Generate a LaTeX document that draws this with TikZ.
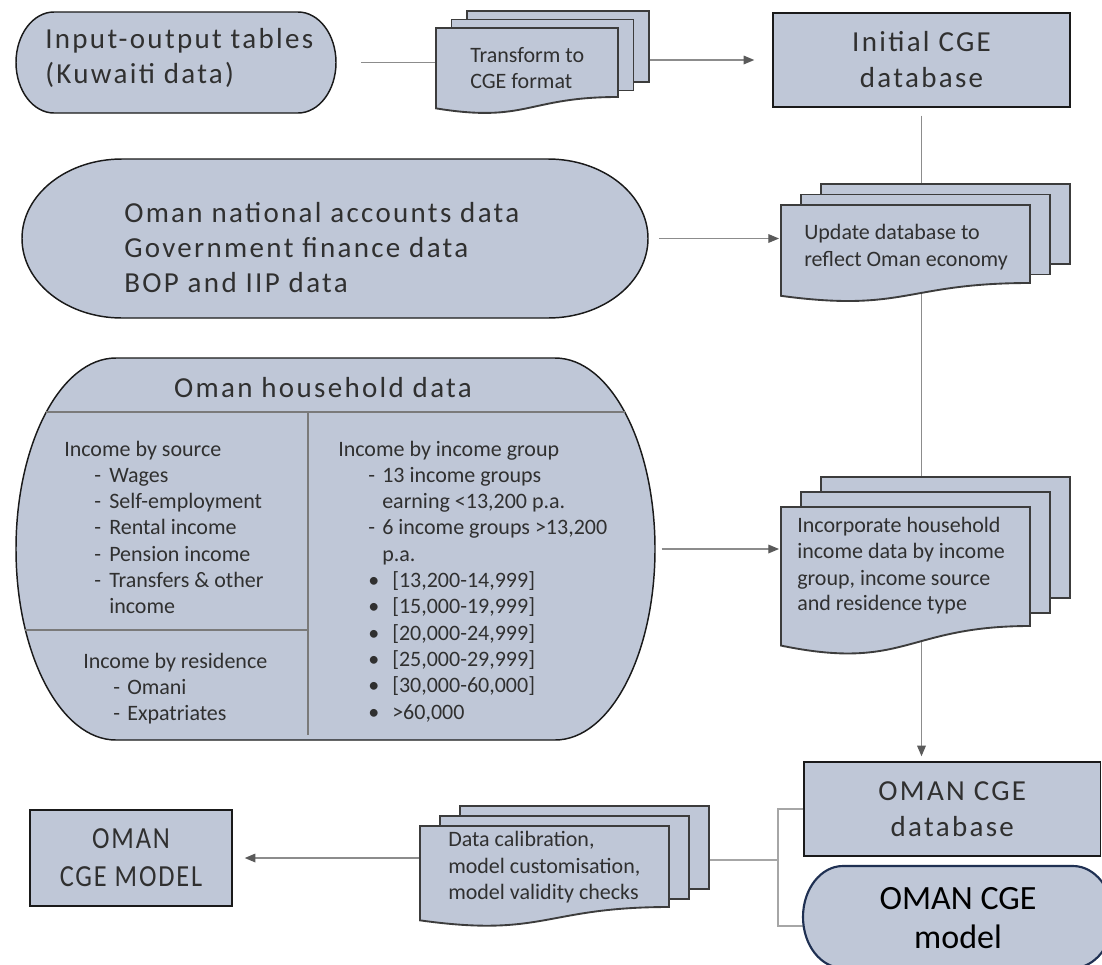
\documentclass[tikz,border=0pt]{standalone}
\usepackage{fontspec}
\setmainfont{Carlito}
\newfontfamily\bigfont[LetterSpace=8]{Carlito}
\newfontfamily\condfont[FakeStretch=0.86,LetterSpace=6]{Carlito}
\usetikzlibrary{arrows.meta}
\definecolor{boxfill}{HTML}{BFC7D7}
\definecolor{edge}{HTML}{1A1A1A}
\definecolor{docedge}{HTML}{3C3C3C}
\definecolor{txt}{HTML}{303030}
\definecolor{connc}{HTML}{8C8C8C}
\definecolor{tipc}{HTML}{5A5A5A}
\definecolor{brkc}{HTML}{A6A6A6}
\definecolor{innerc}{HTML}{7A7A7A}
\definecolor{navy}{HTML}{1F3052}

% stadium (terminator) outline: style, x1, y1, x2, y2, horizontal radius
\newcommand\stadiumpath[6]{%
  \pgfmathsetmacro\sxa{#2+#6}%
  \pgfmathsetmacro\sxb{#4-#6}%
  \pgfmathsetmacro\sym{(#3+#5)/2}%
  \pgfmathsetmacro\sky{0.5523*(#5-#3)/2}%
  \pgfmathsetmacro\skx{0.5523*#6}%
  \path[#1] (\sxa,#3) -- (\sxb,#3)
    .. controls (\sxb+\skx,#3) and (#4,\sym-\sky) .. (#4,\sym)
    .. controls (#4,\sym+\sky) and (\sxb+\skx,#5) .. (\sxb,#5)
    -- (\sxa,#5)
    .. controls (\sxa-\skx,#5) and (#2,\sym+\sky) .. (#2,\sym)
    .. controls (#2,\sym-\sky) and (\sxa-\skx,#3) .. (\sxa,#3) -- cycle;}

% multi-document: x, y, w, right-bottom height, dx, dy
\newcommand\multidoc[6]{%
  \pgfmathsetmacro\dh{#4/0.802}%
  \foreach \k in {2,1}{%
    \path[docshape] (#1+\k*#5,#2-\k*#6) rectangle (#1+#3+\k*#5,#2-\k*#6+#4+2);}%
  \path[docshape] (#1,#2) -- (#1+#3,#2) -- (#1+#3,#2+#4)
     .. controls (#1+0.5*#3,#2+#4) and (#1+0.5*#3,#2+1.107*\dh) .. (#1,#2+0.934*\dh) -- cycle;}

\newcommand\anchornode[5]{\node[inner sep=0pt,outer sep=0pt,minimum width=#4*0.75pt,minimum height=#5*0.75pt] (#1) at (#2,#3) {};}

\begin{document}
\begin{tikzpicture}[x=0.75pt,y=-0.75pt,
  bigtxt/.style={font=\bigfont\fontsize{21.75pt}{27pt}\selectfont, text=txt, inner sep=0pt},
  condtxt/.style={font=\condfont\fontsize{23pt}{28.5pt}\selectfont, text=txt, inner sep=0pt},
  smalltxt/.style={font=\fontsize{16.5pt}{19.75pt}\selectfont, text=txt, inner sep=0pt},
  modeltxt/.style={font=\fontsize{25.5pt}{29pt}\selectfont, text=black, inner sep=0pt, align=center},
  rectbox/.style={draw=edge, fill=boxfill, line width=1.1pt, inner sep=0pt, align=center, bigtxt},
  termshape/.style={draw=edge, fill=boxfill, line width=1.1pt},
  modelshape/.style={draw=navy, fill=boxfill, line width=1.6pt},
  docshape/.style={draw=docedge, fill=boxfill, line width=1.4pt, line join=miter},
  cline/.style={draw=connc, line width=0.9pt},
  arr/.style={-{Triangle[length=8pt,width=6.5pt,color=tipc]}},
  brk/.style={draw=brkc, line width=0.9pt},
  divline/.style={draw=innerc, line width=0.9pt}]

\fill[white] (0,0) rectangle (1102,964);
\useasboundingbox (0,0) rectangle (1102,964);
\clip (0,0) rectangle (1102,964);

% rectangular boxes
\node[rectbox, minimum width=297*0.75pt, minimum height=94*0.75pt] (init) at (921.5,60) {Initial CGE\\database};
\node[rectbox, minimum width=296.5*0.75pt, minimum height=94*0.75pt] (ocd) at (952.25,809) {OMAN CGE\\database};
\node[rectbox, condtxt, minimum width=202*0.75pt, minimum height=96*0.75pt] (ocm) at (131,858) {OMAN\\CGE MODEL};

% anchor nodes for drawn shapes
\anchornode{io}{176}{62.5}{320}{101}
\anchornode{tr}{527}{68}{182}{80}
\anchornode{tr3}{558}{46.5}{182}{71}
\anchornode{on}{335}{238.5}{626}{159}
\anchornode{upd}{905.5}{250}{249}{90}
\anchornode{hh}{335.5}{549}{639}{382}
\anchornode{inc}{905.5}{576}{249}{138}
\anchornode{dc}{544.5}{873}{249}{94}
\anchornode{dc3}{584.5}{847.5}{249}{83}
\anchornode{mdl}{958}{917}{310}{102}
\coordinate (bj) at (778,860);
\coordinate (mdlw) at (804,926);

% connectors
\draw[cline, shorten <=18.75pt] (io.east) -- (io.east -| tr.west);
\draw[cline, arr, shorten >=13.5pt] (tr3.east |- init.west) -- (init.west);
\draw[cline, arr, shorten <=6pt, shorten >=3.75pt] (init.south) -- (init.south |- ocd.north);
\draw[cline, arr, shorten <=8.25pt, shorten >=1.5pt] (on.east) -- (on.east -| upd.west);
\draw[cline, arr, shorten <=5pt, shorten >=1.5pt] (hh.east) -- (hh.east -| inc.west);
\draw[cline, arr, shorten >=9pt] (ocm.east -| dc.west) -- (ocm.east);
\draw[brk] (dc3.east |- bj) -- (bj);
\draw[brk] (ocd.west) -| (bj);
\draw[brk] (bj) |- (mdlw);

% terminator shapes
\stadiumpath{termshape}{16}{12}{336}{113}{38}
\stadiumpath{termshape}{22}{159}{648}{318}{100}
\stadiumpath{termshape}{16}{358}{655}{740}{100}
\stadiumpath{modelshape}{803}{866}{1113}{968}{40}

% household dividers
\draw[divline] (46,412) -- (625,412);
\draw[divline] (308,412) -- (308,735);
\draw[divline] (25,630) -- (308,630);

% multi-documents
\multidoc{436}{28}{182}{69}{15.5}{8.5}
\multidoc{781}{205}{249}{78}{20}{10.5}
\multidoc{781}{507}{249}{119}{20}{15}
\multidoc{420}{826}{249}{81}{20}{10}

% texts
\node[bigtxt, anchor=base west] (io1) at (45,48) {Input-output tables};
\node[bigtxt, anchor=base west] (io2) at (45,83) {(Kuwaiti data)};
\node[smalltxt, anchor=base west] (tr1) at (470,62.5) {Transform to};
\node[smalltxt, anchor=base west] (tr2) at (470,88) {CGE format};

\node[bigtxt, anchor=base west] (on1) at (124,222) {Oman national accounts data};
\node[bigtxt, anchor=base west] (on2) at (124,257) {Government finance data};
\node[bigtxt, anchor=base west] (on3) at (124,292) {BOP and IIP data};

\node[smalltxt, anchor=base west] (up1) at (804,239) {Update database to};
\node[smalltxt, anchor=base west] (up2) at (804,266) {reflect Oman economy};

\node[bigtxt, anchor=base] (hht) at (323,397) {Oman household data};

\node[smalltxt, anchor=base west] (src0) at (64,456) {Income by source};
\foreach \t [count=\i] in {Wages,Self-employment,Rental income,Pension income,{Transfers \& other}}{
  \node[smalltxt, anchor=base west] (srcd\i) at (94,456+26.3*\i) {-};
  \node[smalltxt, anchor=base west] (src\i) at (109,456+26.3*\i) {\t};}
\node[smalltxt, anchor=base west] (src6) at (109,456+26.3*6) {income};

\node[smalltxt, anchor=base west] (res0) at (83,668) {Income by residence};
\foreach \t [count=\i] in {Omani,Expatriates}{
  \node[smalltxt, anchor=base west] (resd\i) at (113,668+26.3*\i) {-};
  \node[smalltxt, anchor=base west] (res\i) at (127,668+26.3*\i) {\t};}

\node[smalltxt, anchor=base west] (grp0) at (338,456) {Income by income group};
\node[smalltxt, anchor=base west] (grpd1) at (368,482.3) {-};
\node[smalltxt, anchor=base west] (grp1) at (382,482.3) {13 income groups};
\node[smalltxt, anchor=base west] (grp2) at (382,508.6) {earning <13,200 p.a.};
\node[smalltxt, anchor=base west] (grpd3) at (368,534.9) {-};
\node[smalltxt, anchor=base west] (grp3) at (382,534.9) {6 income groups >13,200};
\node[smalltxt, anchor=base west] (grp4) at (382,561.2) {p.a.};
\foreach \t [count=\i] in {{[13,200-14,999]},{[15,000-19,999]},{[20,000-24,999]},{[25,000-29,999]},{[30,000-60,000]},{>60,000}}{
  \node[smalltxt, anchor=base west] (bul\i) at (368,561.2+26.3*\i) {•};
  \node[smalltxt, anchor=base west] (rng\i) at (392,561.2+26.3*\i) {\t};}

\node[smalltxt, anchor=base west] (in1) at (797,532) {Incorporate household};
\node[smalltxt, anchor=base west] (in2) at (797,558) {income data by income};
\node[smalltxt, anchor=base west] (in3) at (797,585) {group, income source};
\node[smalltxt, anchor=base west] (in4) at (797,610) {and residence type};

\node[smalltxt, anchor=base west] (dc1) at (448,846) {Data calibration,};
\node[smalltxt, anchor=base west] (dc2) at (448,873) {model customisation,};
\node[smalltxt, anchor=base west] (dc4) at (448,899) {model validity checks};

\node[modeltxt] (mdlt) at (958,918) {OMAN CGE\\model};
\end{tikzpicture}
\end{document}
